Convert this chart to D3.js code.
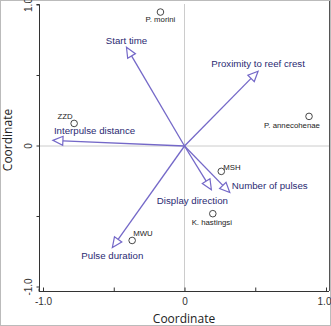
<!DOCTYPE html>
<html lang="en">
<head>
  <meta charset="UTF-8">
  <title>Biplot</title>
  <script src="https://d3js.org/d3.v7.min.js"></script>
  <style>
    body { margin: 0; background: #fff; }
    .tick text { font-family: "Liberation Sans", Arial, sans-serif; font-size: 10px; fill: #333; }
    .axis-title { font-family: "Open Sans", sans-serif; font-size: 12px; fill: #222; }
    .vec-label { font-family: "Liberation Sans", Arial, sans-serif; font-size: 9.7px; fill: #2b2a72; }
    .pt-label { font-family: "Liberation Sans", Arial, sans-serif; font-size: 7.8px; fill: #222; }
  </style>
</head>
<body>
<div class="chart"></div>
<script>
  // vectors (arrow tips)
  const vecNames = ['Start time', 'Interpulse distance', 'Proximity to reef crest', 'Pulse duration', 'Display direction', 'Number of pulses']
  const vecX = [-0.41, -0.93, 0.52, -0.51, 0.19, 0.32]
  const vecY = [0.70, 0.04, 0.53, -0.72, -0.31, -0.33]

  // species / sites
  const ptNames = ['P. morini', 'ZZD', 'P. annecohenae', 'MSH', 'K. hastingsi', 'MWU']
  const ptX = [-0.17, -0.78, 0.88, 0.26, 0.20, -0.37]
  const ptY = [0.95, 0.16, 0.21, -0.18, -0.48, -0.67]

  const ticks = [-1, -0.5, 0, 0.5, 1]
  const tickLabels = ['-1.0', '', '0', '', '1.0']

  // label placement relative to arrow tip / point (pixels)
  const vecLabelPos = [[0, -3, 'middle'], [1, -6, 'start'], [0, -4, 'middle'], [0, 11, 'middle'], [-19, 14, 'middle'], [2, -4, 'start']]
  const ptLabelPos = [[0, 10, 'middle'], [-9, -4, 'middle'], [-17, 12, 'middle'], [2, -1, 'start'], [-1, 11, 'middle'], [1, -4, 'start']]

  const width = 331, height = 326

  const svg = d3.select('.chart').append('svg')
    .attr('width', width)
    .attr('height', height)

  const x = d3.scaleLinear().domain([-1, 1]).range([43, 326])
  const y = d3.scaleLinear().domain([-1, 1]).range([287, 5])

  // outer frame
  svg.append('rect')
    .attr('x', 0.5).attr('y', 0.5)
    .attr('width', width - 1).attr('height', height - 1)
    .attr('fill', 'none').attr('stroke', '#bbb')

  // zero reference lines
  svg.append('line')
    .attr('x1', 39).attr('x2', 329).attr('y1', y(0)).attr('y2', y(0))
    .attr('stroke', '#ccc').attr('stroke-width', 1)
  svg.append('line')
    .attr('x1', x(0)).attr('x2', x(0)).attr('y1', 4).attr('y2', 291)
    .attr('stroke', '#ccc').attr('stroke-width', 1)

  // right border of plot
  svg.append('line')
    .attr('x1', 329.5).attr('x2', 329.5).attr('y1', 1).attr('y2', 291)
    .attr('stroke', '#555')

  // axes
  const yAxis = d3.axisLeft(y).tickValues(ticks).tickSize(3).tickFormat((d, i) => tickLabels[i])
  const gy = svg.append('g').attr('transform', 'translate(39.5,0)').call(yAxis)
  gy.select('.domain').attr('d', 'M-3,4.5H0V291').attr('stroke', '#333')
  gy.selectAll('.tick').attr('transform', null)
  gy.selectAll('.tick line').attr('stroke', '#333').attr('transform', d => `translate(0,${y(d)})`)
  gy.selectAll('.tick text')
    .attr('x', 0).attr('y', 0)
    .attr('dy', '-0.35em')
    .attr('text-anchor', 'middle')
    .attr('transform', d => `translate(-4,${y(d)}) rotate(-90)`)

  const xAxis = d3.axisBottom(x).tickValues(ticks).tickSize(3).tickFormat((d, i) => tickLabels[i])
  const gx = svg.append('g').attr('transform', 'translate(0,291.5)').call(xAxis)
  gx.select('.domain').attr('d', 'M39,-3V0H329').attr('stroke', '#333')
  gx.selectAll('.tick line').attr('stroke', '#333').attr('y2', -4)
  gx.selectAll('.tick text').attr('y', 6)
  gx.selectAll('.tick text').filter(d => d === 1).attr('dx', -2)

  svg.append('text').attr('class', 'axis-title')
    .attr('x', 184).attr('y', 323).attr('text-anchor', 'middle')
    .text('Coordinate')
  svg.append('text').attr('class', 'axis-title')
    .attr('transform', `translate(12,140) rotate(-90)`)
    .attr('text-anchor', 'middle')
    .text('Coordinate')

  // arrows
  const ox = x(0), oy = y(0)
  const headLen = 10, headHalf = 4.5
  const vecs = vecNames.map((n, i) => ({ name: n, tx: x(vecX[i]), ty: y(vecY[i]), lp: vecLabelPos[i] }))

  vecs.forEach(v => {
    const dx = v.tx - ox, dy = v.ty - oy
    const len = Math.sqrt(dx * dx + dy * dy)
    const ux = dx / len, uy = dy / len
    const bx = v.tx - ux * headLen, by = v.ty - uy * headLen
    svg.append('line')
      .attr('x1', ox).attr('y1', oy).attr('x2', bx).attr('y2', by)
      .attr('stroke', '#7468c8').attr('stroke-width', 1.3)
    const pts = [
      [v.tx, v.ty],
      [bx - uy * headHalf, by + ux * headHalf],
      [bx + uy * headHalf, by - ux * headHalf]
    ]
    svg.append('polygon')
      .attr('points', pts.map(p => p.join(',')).join(' '))
      .attr('fill', '#fff').attr('stroke', '#7468c8').attr('stroke-width', 1.2)
  })

  vecs.forEach(v => {
    svg.append('text').attr('class', 'vec-label')
      .attr('x', v.tx + v.lp[0]).attr('y', v.ty + v.lp[1])
      .attr('text-anchor', v.lp[2])
      .text(v.name)
  })

  // points
  ptNames.forEach((n, i) => {
    const px = x(ptX[i]), py = y(ptY[i])
    svg.append('circle')
      .attr('cx', px).attr('cy', py).attr('r', 3.3)
      .attr('fill', '#fff').attr('stroke', '#333').attr('stroke-width', 0.9)
    svg.append('text').attr('class', 'pt-label')
      .attr('x', px + ptLabelPos[i][0]).attr('y', py + ptLabelPos[i][1])
      .attr('text-anchor', ptLabelPos[i][2])
      .text(n)
  })
</script>
</body>
</html>
